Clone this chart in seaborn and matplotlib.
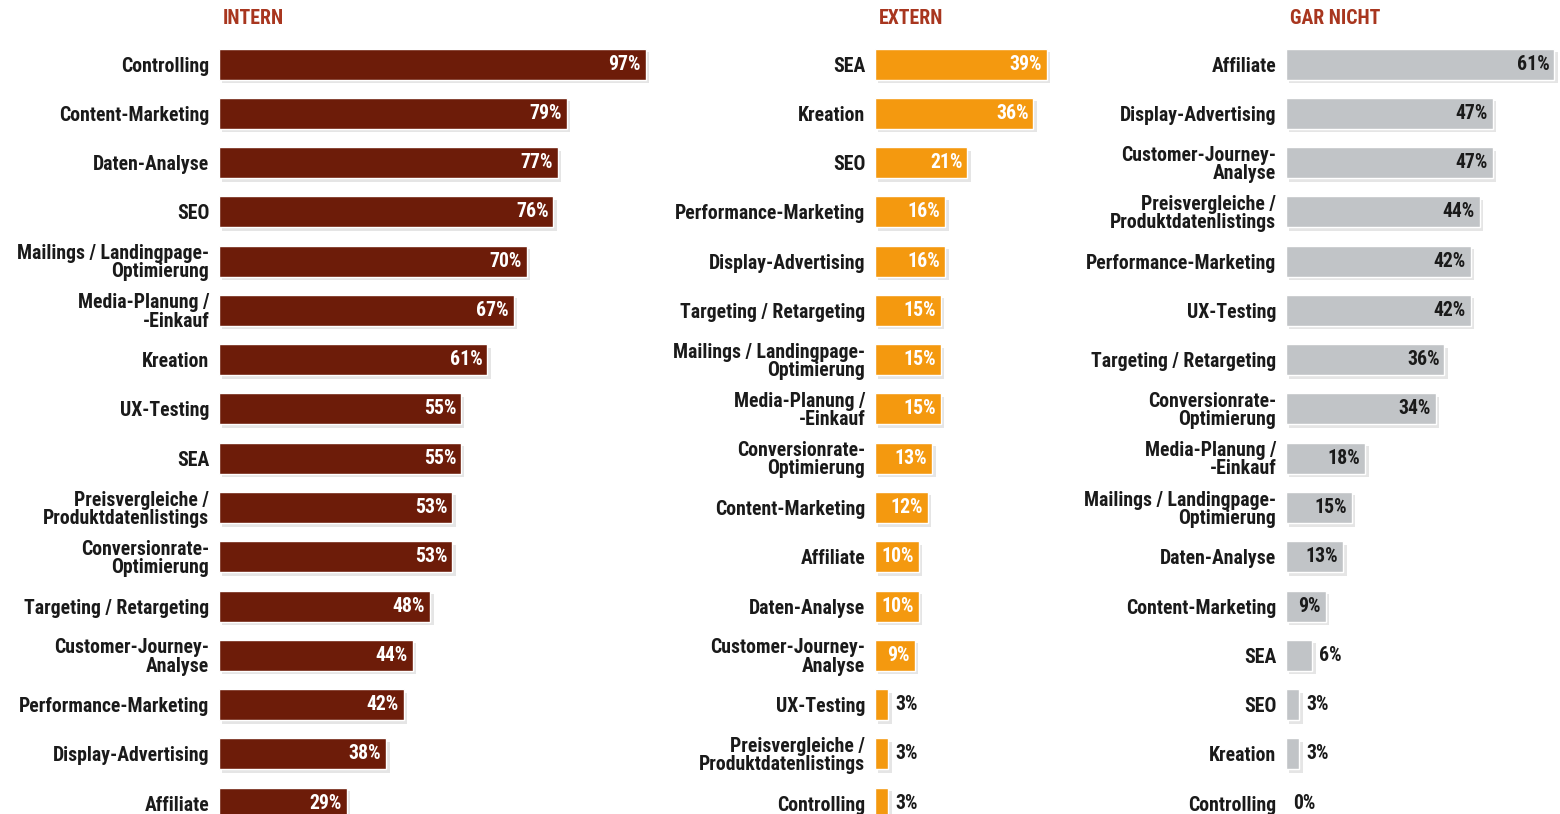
import matplotlib
matplotlib.use("Agg")
import matplotlib.pyplot as plt
import matplotlib.patheffects as pe
from matplotlib import font_manager as fm
import seaborn as sns

# --- Daten ---
intern_labels = ["Controlling", "Content-Marketing", "Daten-Analyse", "SEO",
                 "Mailings / Landingpage-\nOptimierung", "Media-Planung /\n-Einkauf",
                 "Kreation", "UX-Testing", "SEA", "Preisvergleiche /\nProduktdatenlistings",
                 "Conversionrate-\nOptimierung", "Targeting / Retargeting",
                 "Customer-Journey-\nAnalyse", "Performance-Marketing",
                 "Display-Advertising", "Affiliate"]
intern_values = [97, 79, 77, 76, 70, 67, 61, 55, 55, 53, 53, 48, 44, 42, 38, 29]

extern_labels = ["SEA", "Kreation", "SEO", "Performance-Marketing", "Display-Advertising",
                 "Targeting / Retargeting", "Mailings / Landingpage-\nOptimierung",
                 "Media-Planung /\n-Einkauf", "Conversionrate-\nOptimierung",
                 "Content-Marketing", "Affiliate", "Daten-Analyse",
                 "Customer-Journey-\nAnalyse", "UX-Testing",
                 "Preisvergleiche /\nProduktdatenlistings", "Controlling"]
extern_values = [39, 36, 21, 16, 16, 15, 15, 15, 13, 12, 10, 10, 9, 3, 3, 3]

garnicht_labels = ["Affiliate", "Display-Advertising", "Customer-Journey-\nAnalyse",
                   "Preisvergleiche /\nProduktdatenlistings", "Performance-Marketing",
                   "UX-Testing", "Targeting / Retargeting", "Conversionrate-\nOptimierung",
                   "Media-Planung /\n-Einkauf", "Mailings / Landingpage-\nOptimierung",
                   "Daten-Analyse", "Content-Marketing", "SEA", "SEO", "Kreation",
                   "Controlling"]
garnicht_values = [61, 47, 47, 44, 42, 42, 36, 34, 18, 15, 13, 9, 6, 3, 3, 0]

titles = ["INTERN", "EXTERN", "GAR NICHT"]
colors = ["#6d1c09", "#f4990f", "#c1c4c7"]
inner_text = ["white", "white", "#1a1a1a"]

sns.set_style("white")

# schmale Schrift suchen, sonst DejaVu (ggf. Condensed)
installed = {f.name for f in fm.fontManager.ttflist}
family = "DejaVu Sans"
for cand in ["Liberation Sans Narrow", "Roboto Condensed", "Open Sans Condensed"]:
    if cand in installed:
        family = cand
        break
plt.rcParams['font.family'] = [family, 'DejaVu Sans']
if family == "DejaVu Sans" and any(f.name == "DejaVu Sans" and f.stretch == "condensed"
                                   for f in fm.fontManager.ttflist):
    plt.rcParams['font.stretch'] = 'condensed'

W, H = 1560, 814
fig = plt.figure(figsize=(15.6, 8.14), dpi=100)

# Schriftgroesse so waehlen, dass die laengste Zeile ca. 192 px breit ist
probe = fig.text(0, 0, "Mailings / Landingpage-", fontsize=14.5, fontweight="bold")
fig.canvas.draw()
pw = probe.get_window_extent().width
probe.remove()
FS = min(14.5, 14.5 * 192 / pw)

PX = 4.4  # Pixel pro Prozentpunkt
panels = [(219, 100, intern_labels, intern_values),
          (875, 62, extern_labels, extern_values),
          (1286, 62, garnicht_labels, garnicht_values)]

for i, (x0, xmax, labels, values) in enumerate(panels):
    ax = fig.add_axes([x0 / W, 0, xmax * PX / W, 1])
    sns.barplot(x=values, y=labels, orient="h", color=colors[i], width=0.63,
                saturation=1, ax=ax)
    for p in ax.patches:
        p.set_path_effects([pe.SimplePatchShadow(offset=(2.5, -2.5), alpha=0.15,
                                                 shadow_rgbFace="#555555"),
                            pe.Normal()])
    ax.set_xlim(0, xmax)
    ax.set_ylim(15.22, -1.30)
    ax.set_xticks([])
    ax.set_xlabel("")
    ax.set_ylabel("")
    ax.tick_params(axis="y", length=0, pad=7)
    for lab in ax.get_yticklabels():
        lab.set_fontsize(FS)
        lab.set_fontweight("bold")
        lab.set_color("#1a1a1a")
        lab.set_linespacing(0.95)
    sns.despine(ax=ax, left=True, bottom=True)
    ax.patch.set_alpha(0)

    for j, v in enumerate(values):
        if v > 7:
            ax.text(v - 1.1, j, f"{v}%", ha="right", va="center", color=inner_text[i],
                    fontsize=FS, fontweight="bold")
        else:
            ax.text(v + 1.6, j, f"{v}%", ha="left", va="center", color="#1a1a1a",
                    fontsize=FS, fontweight="bold")

    ax.text(0.8, -0.92, titles[i], ha="left", va="center", color="#a8361f",
            fontsize=FS, fontweight="bold")

fig.savefig("out.png", dpi=100)
